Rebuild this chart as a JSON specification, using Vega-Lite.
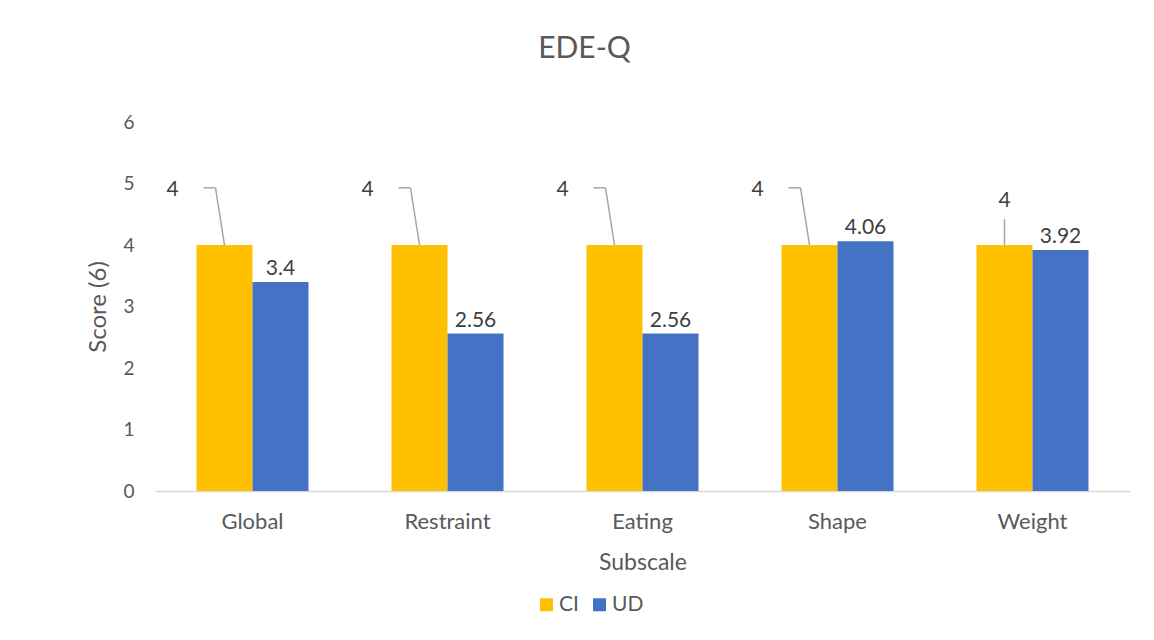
{
  "$schema": "https://vega.github.io/schema/vega-lite/v6.json",
  "width": 975,
  "height": 369,
  "autosize": "none",
  "padding": {"left": 155, "top": 122, "right": 24, "bottom": 149},
  "background": "white",
  "config": {
    "font": "Lato",
    "view": {"stroke": null},
    "axis": {"labelColor": "#595959", "titleColor": "#595959", "titleFontWeight": "normal", "grid": false, "ticks": false, "tickSize": 0},
    "legend": {"labelColor": "#595959"}
  },
  "title": {"text": "EDE-Q", "fontSize": 30, "fontWeight": "normal", "color": "#595959", "anchor": "middle", "dx": -58, "offset": 49},
  "data": {"values": [
    {"Subscale": "Global", "Group": "CI", "Score": 4},
    {"Subscale": "Global", "Group": "UD", "Score": 3.4},
    {"Subscale": "Restraint", "Group": "CI", "Score": 4},
    {"Subscale": "Restraint", "Group": "UD", "Score": 2.56},
    {"Subscale": "Eating", "Group": "CI", "Score": 4},
    {"Subscale": "Eating", "Group": "UD", "Score": 2.56},
    {"Subscale": "Shape", "Group": "CI", "Score": 4},
    {"Subscale": "Shape", "Group": "UD", "Score": 4.06},
    {"Subscale": "Weight", "Group": "CI", "Score": 4},
    {"Subscale": "Weight", "Group": "UD", "Score": 3.92}
  ]},
  "encoding": {
    "x": {
      "field": "Subscale", "type": "nominal",
      "sort": ["Global", "Restraint", "Eating", "Shape", "Weight"],
      "scale": {"paddingInner": 0.4256, "paddingOuter": 0.2128},
      "axis": {"labelAngle": 0, "labelFontSize": 22, "labelPadding": 20, "title": "Subscale", "titleFontSize": 23, "titlePadding": 19, "domainColor": "#D9D9D9", "domainWidth": 1.5}
    }
  },
  "layer": [
    {
      "mark": {"type": "bar"},
      "encoding": {
        "xOffset": {"field": "Group", "type": "nominal", "scale": {"paddingInner": 0, "paddingOuter": 0}},
        "y": {"field": "Score", "type": "quantitative", "scale": {"domain": [0, 6]},
          "axis": {"values": [0, 1, 2, 3, 4, 5, 6], "format": "d", "labelFontSize": 19, "labelPadding": 21, "domain": false, "title": "Score (6)", "titleFontSize": 24, "titlePadding": 12}},
        "color": {"field": "Group", "type": "nominal",
          "scale": {"domain": ["CI", "UD"], "range": ["#FFC000", "#4472C4"]},
          "legend": {"title": null, "orient": "none", "legendX": 381, "legendY": 472, "direction": "horizontal", "symbolType": "square", "symbolSize": 169, "symbolStrokeWidth": 0, "labelFontSize": 21, "labelOffset": 2, "columnPadding": 10}}
      }
    },
    {
      "transform": [{"filter": "datum.Group === 'UD'"}],
      "mark": {"type": "text", "baseline": "alphabetic", "dy": -7, "fontSize": 21, "color": "#404040"},
      "encoding": {
        "xOffset": {"field": "Group", "type": "nominal", "scale": {"domain": ["CI", "UD"]}},
        "y": {"field": "Score", "type": "quantitative"},
        "text": {"field": "Score", "type": "quantitative"}
      }
    },
    {
      "transform": [{"filter": "datum.Group === 'CI' && datum.Subscale !== 'Weight'"}],
      "mark": {"type": "rule", "color": "#A6A6A6", "strokeWidth": 1.5, "x2Offset": -37},
      "encoding": {
        "x": {"field": "Subscale", "type": "nominal", "sort": ["Global", "Restraint", "Eating", "Shape", "Weight"], "bandPosition": 0.25},
        "x2": {"field": "Subscale"},
        "y": {"field": "Score", "type": "quantitative"},
        "y2": {"datum": 4.93}
      }
    },
    {
      "transform": [{"filter": "datum.Group === 'CI' && datum.Subscale !== 'Weight'"}],
      "mark": {"type": "rule", "color": "#A6A6A6", "strokeWidth": 1.5, "xOffset": -21, "x2Offset": -37},
      "encoding": {
        "x": {"field": "Subscale", "type": "nominal", "sort": ["Global", "Restraint", "Eating", "Shape", "Weight"], "bandPosition": 0.25},
        "x2": {"field": "Subscale"},
        "y": {"datum": 4.93}
      }
    },
    {
      "transform": [{"filter": "datum.Group === 'CI' && datum.Subscale !== 'Weight'"}],
      "mark": {"type": "text", "baseline": "middle", "align": "center", "dx": -52, "dy": 2, "fontSize": 21, "color": "#404040"},
      "encoding": {
        "x": {"field": "Subscale", "type": "nominal", "sort": ["Global", "Restraint", "Eating", "Shape", "Weight"], "bandPosition": 0.25},
        "y": {"datum": 4.93},
        "text": {"field": "Score", "type": "quantitative"}
      }
    },
    {
      "transform": [{"filter": "datum.Group === 'CI' && datum.Subscale === 'Weight'"}],
      "mark": {"type": "rule", "color": "#A6A6A6", "strokeWidth": 1.5},
      "encoding": {
        "x": {"field": "Subscale", "type": "nominal", "sort": ["Global", "Restraint", "Eating", "Shape", "Weight"], "bandPosition": 0.25},
        "y": {"field": "Score", "type": "quantitative"},
        "y2": {"datum": 4.42}
      }
    },
    {
      "transform": [{"filter": "datum.Group === 'CI' && datum.Subscale === 'Weight'"}],
      "mark": {"type": "text", "baseline": "middle", "align": "center", "fontSize": 21, "color": "#404040"},
      "encoding": {
        "x": {"field": "Subscale", "type": "nominal", "sort": ["Global", "Restraint", "Eating", "Shape", "Weight"], "bandPosition": 0.25},
        "y": {"datum": 4.72},
        "text": {"field": "Score", "type": "quantitative"}
      }
    }
  ]
}
